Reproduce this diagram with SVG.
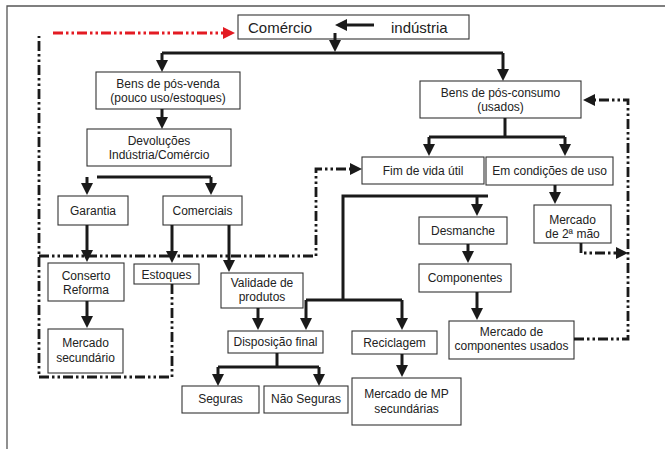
<svg xmlns="http://www.w3.org/2000/svg" width="665" height="449" viewBox="0 0 665 449">
<defs>
<marker id="ah" markerUnits="userSpaceOnUse" viewBox="0 0 12 12" markerWidth="12" markerHeight="12" refX="2" refY="6" orient="auto"><path d="M0,0 L12,6 L0,12 z" fill="#1a1a1a"/></marker>
<marker id="ahr" markerUnits="userSpaceOnUse" viewBox="0 0 12 12" markerWidth="12" markerHeight="12" refX="2" refY="6" orient="auto"><path d="M0,0 L12,6 L0,12 z" fill="#e31b23"/></marker>
</defs>
<style>
.box{fill:#fff;stroke:#333;stroke-width:1.1}
text{font-family:"Liberation Sans",Arial,sans-serif;font-size:12px;fill:#222;text-anchor:middle}
.big{font-size:15px;text-anchor:start}
.c{fill:none;stroke:#1a1a1a;stroke-width:3}
.a{marker-end:url(#ah)}
.d{fill:none;stroke:#1a1a1a;stroke-width:2.8;stroke-dasharray:10 3 2.5 3 2.5 3}
.r{fill:none;stroke:#e31b23;stroke-width:3;stroke-dasharray:10 3 2.5 3 2.5 3;marker-end:url(#ahr)}
</style>
<rect width="665" height="449" fill="#fff"/>
<path d="M7,449 L7,6 L665,6" fill="none" stroke="#555" stroke-width="1.3"/>

<g id="comercio"><rect class="box" x="238" y="15" width="231" height="24"/><text class="big" x="248" y="32.5">Comércio</text><text class="big" x="391" y="32.5">indústria</text></g>
<g id="pos-venda"><rect class="box" x="96" y="72" width="144" height="37"/><text x="168" y="87.5">Bens de pós-venda</text><text x="168" y="101.5">(pouco uso/estoques)</text></g>
<g id="devolucoes"><rect class="box" x="87" y="129" width="144" height="37"/><text x="159" y="145">Devoluções</text><text x="159" y="159">Indústria/Comércio</text></g>
<g id="garantia"><rect class="box" x="58" y="196" width="70" height="29"/><text x="93" y="215">Garantia</text></g>
<g id="comerciais"><rect class="box" x="163" y="196" width="79" height="29"/><text x="202.5" y="215">Comerciais</text></g>
<g id="conserto"><rect class="box" x="48" y="263" width="76" height="38"/><text x="86" y="280">Conserto</text><text x="86" y="293.5">Reforma</text></g>
<g id="estoques"><rect class="box" x="134" y="264" width="65" height="20"/><text x="166.5" y="278.5">Estoques</text></g>
<g id="mercado-sec"><rect class="box" x="48" y="329" width="75" height="44"/><text x="85.5" y="347">Mercado</text><text x="85.5" y="361.5">secundário</text></g>
<g id="validade"><rect class="box" x="221" y="273" width="82" height="35"/><text x="262" y="287">Validade de</text><text x="262" y="301">produtos</text></g>
<g id="pos-consumo"><rect class="box" x="420" y="81" width="161" height="37"/><text x="500.5" y="97">Bens de pós-consumo</text><text x="500.5" y="111">(usados)</text></g>
<g id="fim-vida"><rect class="box" x="362" y="157" width="122" height="27"/><text x="423" y="175">Fim de vida útil</text></g>
<g id="em-condicoes"><rect class="box" x="486" y="157" width="127" height="28"/><text x="549.5" y="175">Em condições de uso</text></g>
<g id="mercado-2mao"><rect class="box" x="534" y="205" width="77" height="38"/><text x="572.5" y="224">Mercado</text><text x="572.5" y="237.5">de 2ª mão</text></g>
<g id="desmanche"><rect class="box" x="419" y="217" width="88" height="27"/><text x="463" y="235">Desmanche</text></g>
<g id="componentes"><rect class="box" x="419" y="264" width="92" height="28"/><text x="465" y="282">Componentes</text></g>
<g id="mercado-comp"><rect class="box" x="449" y="321" width="125" height="38"/><text x="511.5" y="336">Mercado de</text><text x="511.5" y="350">componentes usados</text></g>
<g id="disposicao"><rect class="box" x="228" y="331" width="95" height="22"/><text x="275.5" y="346">Disposição final</text></g>
<g id="reciclagem"><rect class="box" x="352" y="331" width="85" height="23"/><text x="394.5" y="346.5">Reciclagem</text></g>
<g id="seguras"><rect class="box" x="182" y="386" width="77" height="27"/><text x="220.5" y="403">Seguras</text></g>
<g id="nao-seguras"><rect class="box" x="264" y="386" width="84" height="27"/><text x="306" y="403">Não Seguras</text></g>
<g id="mercado-mp"><rect class="box" x="352" y="378" width="109" height="47"/><text x="406.5" y="398">Mercado de MP</text><text x="406.5" y="413">secundárias</text></g>

<g id="connectors">
<path class="c a" d="M335,33 L335,42"/>
<path class="c" d="M162,53 L503,53"/>
<path class="c a" d="M162,53 L162,62"/>
<path class="c a" d="M503,53 L503,71"/>
<path class="c a" d="M374,25 L345,25"/>
<path class="c a" d="M162,109 L162,119"/>
<path class="c" d="M97,177 L211,177"/>
<path class="c a" d="M87,177 L87,185"/>
<path class="c a" d="M211,177 L211,185"/>
<path class="c a" d="M87,225 L87,252"/>
<path class="c a" d="M172,225 L172,253"/>
<path class="c a" d="M229,225 L229,262"/>
<path class="c a" d="M87,301 L87,318"/>
<path class="c a" d="M258,308 L258,320"/>
<path class="c" d="M488,196 L343,196 L343,300"/>
<path class="c" d="M306,300 L402,300"/>
<path class="c a" d="M306,300 L306,320"/>
<path class="c a" d="M402,300 L402,320"/>
<path class="c a" d="M477,196 L477,206"/>
<path class="c a" d="M468,244 L468,253"/>
<path class="c a" d="M477,292 L477,310"/>
<path class="c" d="M505,118 L505,137"/>
<path class="c" d="M429,137 L565,137"/>
<path class="c a" d="M429,137 L429,146"/>
<path class="c a" d="M565,137 L565,146"/>
<path class="c a" d="M555,185 L555,194"/>
<path class="c" d="M277,353 L277,367"/>
<path class="c" d="M218,367 L319,367"/>
<path class="c a" d="M218,367 L218,376"/>
<path class="c a" d="M319,367 L319,376"/>
<path class="c a" d="M402,354 L402,367"/>
<path class="r" d="M53,33 L225,33"/>
<path class="d" d="M172,284 L172,377 L39,377 L39,36"/>
<path class="d a" d="M39,256 L316,256 L316,169 L352,169"/>
<path class="d a" d="M581,243 L581,253 L618,253"/>
<path class="d a" d="M574,339 L628,339 L628,100 L593,100"/>
</g>
</svg>
